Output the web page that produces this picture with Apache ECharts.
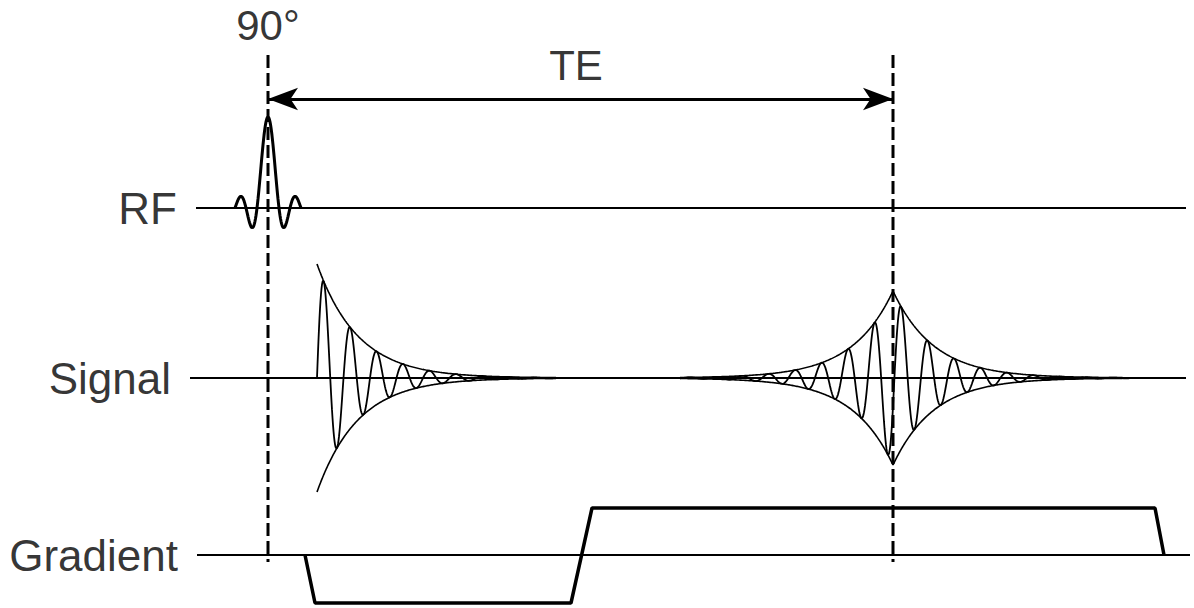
<!DOCTYPE html>
<html>
<head>
<meta charset="utf-8">
<script src="https://cdn.jsdelivr.net/npm/echarts@6/dist/echarts.min.js"></script>
<style>
  html, body { margin: 0; padding: 0; background: #ffffff; }
  #chart { width: 1194px; height: 608px; }
</style>
</head>
<body>
<div id="chart"></div>
<script>
// Spin-echo timing diagram: RF, receive signal and gradient rows.

// Rows of the diagram
const channels = ['RF', 'Signal', 'Gradient'];
const baselines = [400, 230, 53];        // vertical level of each row
const rowStart = [196, 190, 197];        // time where each baseline begins
const rowEnd = [1186, 1186, 1190];       // time where each baseline ends

// Timing markers: 90° excitation and echo centre
const markerTimes = [268, 893];
const markerTop = 553;
const markerBottom = 46;
const pulseLabel = '90°';
const echoLabel = 'TE';
const arrowLevel = 509;

// RF excitation (sinc-shaped pulse)
const rfCentre = 268;
const rfAmplitude = 91;
const rfZeroSpacing = 11;
const rfLobes = 3;

// Free induction decay after the pulse
const fidStart = 317;
const fidEnd = 556;
const fidAmplitude = 114;
const fidDecay = 41;
const fidPeriod = 26.5;

// Echo around TE
const echoCentre = 893;
const echoStart = 680;
const echoEnd = 1132;
const echoAmplitude = 87;
const echoDecay = 41;
const echoPeriod = 26.5;
const echoZeroCrossing = 894.4;

// Readout gradient corners: times and amplitudes
const gradTimes = [305, 315, 571, 592, 1155, 1164];
const gradAmps = [0, -48, -48, 47, 47, 0];

const step = 0.5;

function sinc(u) { return u === 0 ? 1 : Math.sin(u) / u; }

function rfCurve() {
  const pts = [];
  const half = rfZeroSpacing * rfLobes;
  for (let t = rfCentre - half; t <= rfCentre + half + 1e-9; t += step) {
    pts.push([t, baselines[0] + rfAmplitude * sinc(Math.PI * (t - rfCentre) / rfZeroSpacing)]);
  }
  return pts;
}

function fidCurve(sign) {
  const pts = [];
  for (let t = fidStart; t <= fidEnd + 1e-9; t += step) {
    const env = fidAmplitude * Math.exp(-(t - fidStart) / fidDecay);
    const v = sign === 0 ? env * Math.sin(2 * Math.PI * (t - fidStart) / fidPeriod) : sign * env;
    pts.push([t, baselines[1] + v]);
  }
  return pts;
}

function echoCurve(sign) {
  const pts = [];
  for (let t = echoStart; t <= echoEnd + 1e-9; t += step) {
    const env = echoAmplitude * Math.exp(-Math.abs(t - echoCentre) / echoDecay);
    const v = sign === 0 ? env * Math.sin(2 * Math.PI * (t - echoZeroCrossing) / echoPeriod) : sign * env;
    pts.push([t, baselines[1] + v]);
  }
  return pts;
}

const black = '#000000';
const font = '"Liberation Sans", Arial, Helvetica, sans-serif';

function lineSeries(name, data, width, extra) {
  return Object.assign({
    name: name,
    type: 'line',
    data: data,
    symbol: 'none',
    silent: true,
    animation: false,
    lineStyle: { color: black, width: width },
    z: 2
  }, extra || {});
}

const series = [];

// Baselines
channels.forEach((name, i) => {
  series.push(lineSeries(name + ' baseline', [[rowStart[i], baselines[i]], [rowEnd[i], baselines[i]]], 2));
});

// Row labels
series.push({
  type: 'scatter',
  symbolSize: 0,
  silent: true,
  animation: false,
  data: channels.map((name, i) => ({ value: [rowStart[i], baselines[i]], name: name })),
  label: {
    show: true,
    position: 'left',
    distance: 19,
    formatter: p => p.name,
    fontSize: 44,
    fontFamily: font,
    color: black
  }
});

// RF pulse
series.push(lineSeries('RF pulse', rfCurve(), 3));

// FID and its envelope
series.push(lineSeries('FID', fidCurve(0), 1.8));
series.push(lineSeries('FID envelope +', fidCurve(1), 1.6));
series.push(lineSeries('FID envelope -', fidCurve(-1), 1.6));

// Echo and its envelope
series.push(lineSeries('Echo', echoCurve(0), 1.8));
series.push(lineSeries('Echo envelope +', echoCurve(1), 1.6));
series.push(lineSeries('Echo envelope -', echoCurve(-1), 1.6));

// Gradient waveform
series.push(lineSeries('Gradient lobes',
  gradTimes.map((t, i) => [t, baselines[2] + gradAmps[i]]), 3.5));

// Dashed timing markers
markerTimes.forEach((t, i) => {
  series.push(lineSeries('marker ' + i, [[t, markerTop], [t, markerBottom]], 3,
    { lineStyle: { color: black, width: 3, type: [13, 5] }, z: 5 }));
});

// Marker labels and the TE arrow between the two markers
series.push({
  type: 'scatter',
  symbolSize: 0,
  silent: true,
  animation: false,
  data: [
    { value: [markerTimes[0], 583], name: pulseLabel },
    { value: [576, 543], name: echoLabel }
  ],
  label: {
    show: true,
    position: 'inside',
    formatter: p => p.name,
    fontSize: 42,
    fontFamily: font,
    color: black
  },
  markLine: {
    silent: true,
    animation: false,
    symbol: ['arrow', 'arrow'],
    symbolSize: [17, 30],
    label: { show: false },
    lineStyle: { color: black, width: 3, type: 'solid' },
    data: [[
      { coord: [markerTimes[0], arrowLevel] },
      { coord: [markerTimes[1], arrowLevel] }
    ]]
  }
});

const chart = echarts.init(document.getElementById('chart'), null, { renderer: 'svg' });
chart.setOption({
  backgroundColor: '#ffffff',
  animation: false,
  grid: { left: 0, right: 0, top: 0, bottom: 0 },
  xAxis: { type: 'value', min: 0, max: 1194, show: false },
  yAxis: { type: 'value', min: 0, max: 608, show: false },
  series: series
});
</script>
</body>
</html>
